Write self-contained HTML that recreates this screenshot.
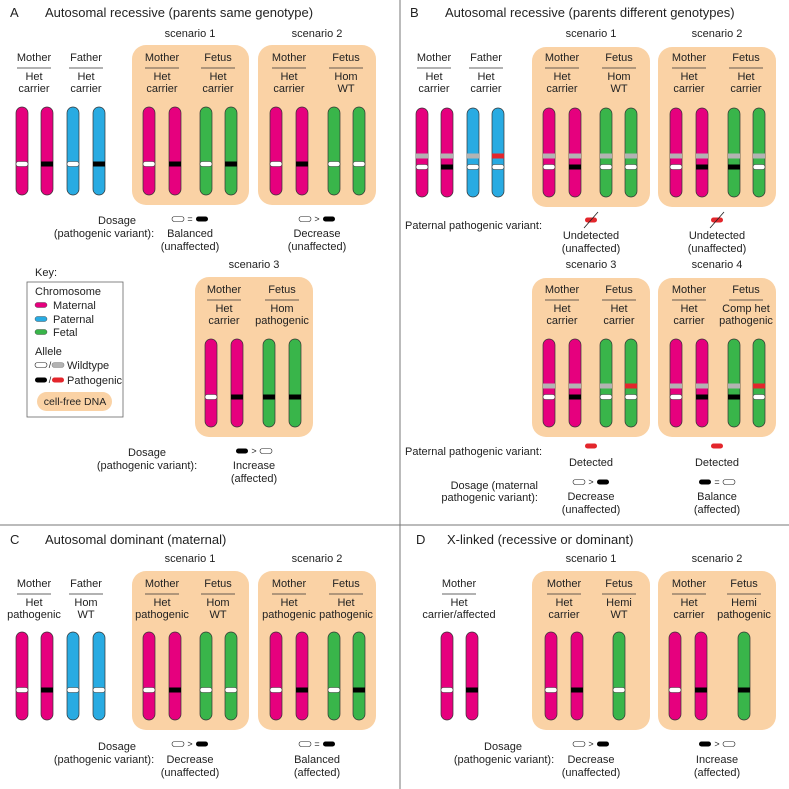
<!DOCTYPE html>
<html><head><meta charset="utf-8"><style>
html,body{margin:0;padding:0;background:#fff;}
svg{display:block;font-family:"Liberation Sans",sans-serif;}
text{fill:#222;}
</style></head><body>
<svg id="fig" width="789" height="789" viewBox="0 0 789 789" xmlns="http://www.w3.org/2000/svg"></svg>
<script>
const NS='http://www.w3.org/2000/svg';
const svg=document.getElementById('fig');
const COL={m:'#e6007e',p:'#29abe2',f:'#39b54a'};
const AL={w:'#ffffff',b:'#000000',g:'#b3b3b3',r:'#e3262c'};
function el(tag,attrs,parent){const e=document.createElementNS(NS,tag);for(const k in attrs)e.setAttribute(k,attrs[k]);(parent||svg).appendChild(e);return e;}
function txt(x,y,s,size,anchor,name){const t=el('text',{x:x,y:y,'font-size':size||11,'text-anchor':anchor||'middle'});t.textContent=s;


return t;}
function box(x1,y1,x2,y2){const r=el('rect',{x:x1,y:y1,width:x2-x1,height:y2-y1,rx:14,fill:'#fad2a5'});

}
function allele(cx,y,t,w){const r=el('rect',{x:cx-(w||6),y:y-2.5,width:2*(w||6),height:5,rx:2.5,fill:AL[t],stroke:t=='w'?'#222':(t=='g'?'#888':'none'),'stroke-width':0.6});

return r;}
function chrom(cx,top,bot,c,als){const g=el('g',{});


el('rect',{x:cx-6,y:top,width:12,height:bot-top,rx:6,fill:COL[c],stroke:'#333','stroke-width':0.7},g);
als.forEach(a=>{const r=el('rect',{x:cx-6,y:a[0]-2.5,width:12,height:5,rx:a[1]=='w'?2.5:0,fill:AL[a[1]],stroke:a[1]=='w'?'#333':'none','stroke-width':0.5},g);});}
function head(cx,y,name,l1,l2){txt(cx,y,name,11,'middle','person-label');
const ln=el('line',{x1:cx-17,y1:y+7,x2:cx+17,y2:y+7,stroke:'#333','stroke-width':0.8});


txt(cx,y+19,l1,11,'middle','genotype-line1');txt(cx,y+31,l2,11,'middle','genotype-line2');}
function sym(cx,y,a,op,b){allele(cx-12,y,a,6);txt(cx,y+3,op,9,'middle','dosage-operator');allele(cx+12,y,b,6);}

[['line',{x1:400,y1:0,x2:400,y2:789}],['line',{x1:0,y1:525,x2:789,y2:525}]].forEach(d=>{const l=el(d[0],Object.assign(d[1],{stroke:'#777','stroke-width':1}));

});

[[10,45,17,'A','Autosomal recessive (parents same genotype)'],[410,445,17,'B','Autosomal recessive (parents different genotypes)'],
 [10,45,544,'C','Autosomal dominant (maternal)'],[416,447,544,'D','X-linked (recessive or dominant)']].forEach(t=>{
 txt(t[0],t[2],t[3],13,'start','panel-letter');txt(t[1],t[2],t[4],13,'start','panel-title');});

// Panel A
box(132,45,249,205);box(258,45,376,205);box(195,277,313,437);
txt(190,37,'scenario 1',11,'middle','scenario-label');txt(317,37,'scenario 2',11,'middle','scenario-label');txt(254,268,'scenario 3',11,'middle','scenario-label');
head(34,61,'Mother','Het','carrier');head(86,61,'Father','Het','carrier');
head(162,61,'Mother','Het','carrier');head(218,61,'Fetus','Het','carrier');
head(289,61,'Mother','Het','carrier');head(346,61,'Fetus','Hom','WT');
head(224,293,'Mother','Het','carrier');head(282,293,'Fetus','Hom','pathogenic');
[[22,'m','w'],[47,'m','b'],[73,'p','w'],[99,'p','b'],[149,'m','w'],[175,'m','b'],[206,'f','w'],[231,'f','b'],[276,'m','w'],[302,'m','b'],[334,'f','w'],[359,'f','w']]
 .forEach(c=>chrom(c[0],107,195,c[1],[[164,c[2]]]));
[[211,'m','w'],[237,'m','b'],[269,'f','b'],[295,'f','b']].forEach(c=>chrom(c[0],339,427,c[1],[[397,c[2]]]));
txt(117,224,'Dosage');txt(104,237,'(pathogenic variant):');
sym(190,219,'w','=','b');txt(190,237,'Balanced');txt(190,250,'(unaffected)');
sym(317,219,'w','>','b');txt(317,237,'Decrease');txt(317,250,'(unaffected)');
txt(147,456,'Dosage');txt(147,469,'(pathogenic variant):');
sym(254,451,'b','>','w');txt(254,469,'Increase');txt(254,482,'(affected)');
// key
txt(35,276,'Key:',11,'start','key-title');
const kb=el('rect',{x:27,y:282,width:96,height:135,fill:'#fff',stroke:'#666','stroke-width':0.8});

txt(35,295,'Chromosome',11,'start','key-heading');
[['m','Maternal',305],['p','Paternal',319],['f','Fetal',332]].forEach(k=>{const r=el('rect',{x:35,y:k[2]-2.5,width:12,height:5,rx:2.5,fill:COL[k[0]],stroke:'#333','stroke-width':0.4});
txt(53,k[2]+4,k[1],11,'start','key-entry');});
txt(35,355,'Allele',11,'start','key-heading');
allele(41,365,'w',6);txt(50,368,'/',9,'middle');allele(58,365,'g',6);txt(67,369,'Wildtype',11,'start','key-entry');
allele(41,380,'b',6);txt(50,383,'/',9,'middle');allele(58,380,'r',6);txt(67,384,'Pathogenic',11,'start','key-entry');
const cf=el('rect',{x:37,y:392,width:75,height:19,rx:9.5,fill:'#fad2a5'});
txt(75,405,'cell-free DNA',10.5,'middle','key-entry');

// Panel B
box(532,47,650,207);box(658,47,776,207);box(532,278,650,437);box(658,278,776,437);
txt(591,37,'scenario 1',11,'middle','scenario-label');txt(717,37,'scenario 2',11,'middle','scenario-label');
txt(591,268,'scenario 3',11,'middle','scenario-label');txt(717,268,'scenario 4',11,'middle','scenario-label');
head(434,61,'Mother','Het','carrier');head(486,61,'Father','Het','carrier');
head(562,61,'Mother','Het','carrier');head(619,61,'Fetus','Hom','WT');
head(689,61,'Mother','Het','carrier');head(746,61,'Fetus','Het','carrier');
head(562,293,'Mother','Het','carrier');head(619,293,'Fetus','Het','carrier');
head(689,293,'Mother','Het','carrier');head(746,293,'Fetus','Comp het','pathogenic');
[[422,'m','g','w'],[447,'m','g','b'],[473,'p','g','w'],[498,'p','r','w'],
 [549,'m','g','w'],[575,'m','g','b'],[606,'f','g','w'],[631,'f','g','w'],
 [676,'m','g','w'],[702,'m','g','b'],[734,'f','g','b'],[759,'f','g','w']].forEach(c=>chrom(c[0],108,197,c[1],[[156,c[2]],[167,c[3]]]));
[[549,'m','g','w'],[575,'m','g','b'],[606,'f','g','w'],[631,'f','r','w'],
 [676,'m','g','w'],[702,'m','g','b'],[734,'f','g','b'],[759,'f','r','w']].forEach(c=>chrom(c[0],339,427,c[1],[[386,c[2]],[397,c[3]]]));
txt(542,229,'Paternal pathogenic variant:',11,'end');
[591,717].forEach(x=>{allele(x,220,'r',6);const l=el('line',{x1:x-7,y1:228,x2:x+7,y2:212,stroke:'#222','stroke-width':0.8});
txt(x,239,'Undetected');txt(x,252,'(unaffected)');});
txt(542,455,'Paternal pathogenic variant:',11,'end');
[591,717].forEach(x=>{allele(x,446,'r',6);txt(x,466,'Detected');});
txt(538,489,'Dosage (maternal',11,'end');txt(538,501,'pathogenic variant):',11,'end');
sym(591,482,'w','>','b');txt(591,500,'Decrease');txt(591,513,'(unaffected)');
sym(717,482,'b','=','w');txt(717,500,'Balance');txt(717,513,'(affected)');

// Panel C
box(132,571,249,730);box(258,571,376,730);
txt(190,562,'scenario 1',11,'middle','scenario-label');txt(317,562,'scenario 2',11,'middle','scenario-label');
head(34,587,'Mother','Het','pathogenic');head(86,587,'Father','Hom','WT');
head(162,587,'Mother','Het','pathogenic');head(218,587,'Fetus','Hom','WT');
head(289,587,'Mother','Het','pathogenic');head(346,587,'Fetus','Het','pathogenic');
[[22,'m','w'],[47,'m','b'],[73,'p','w'],[99,'p','w'],[149,'m','w'],[175,'m','b'],[206,'f','w'],[231,'f','w'],[276,'m','w'],[302,'m','b'],[334,'f','w'],[359,'f','b']]
 .forEach(c=>chrom(c[0],632,720,c[1],[[690,c[2]]]));
txt(117,750,'Dosage');txt(104,763,'(pathogenic variant):');
sym(190,744,'w','>','b');txt(190,763,'Decrease');txt(190,776,'(unaffected)');
sym(317,744,'w','=','b');txt(317,763,'Balanced');txt(317,776,'(affected)');

// Panel D
box(532,571,650,730);box(658,571,776,730);
txt(591,562,'scenario 1',11,'middle','scenario-label');txt(717,562,'scenario 2',11,'middle','scenario-label');
head(459,587,'Mother','Het','carrier/affected');
head(564,587,'Mother','Het','carrier');head(619,587,'Fetus','Hemi','WT');
head(689,587,'Mother','Het','carrier');head(744,587,'Fetus','Hemi','pathogenic');
[[447,'m','w'],[472,'m','b'],[551,'m','w'],[577,'m','b'],[619,'f','w'],[675,'m','w'],[701,'m','b'],[744,'f','b']]
 .forEach(c=>chrom(c[0],632,720,c[1],[[690,c[2]]]));
txt(503,750,'Dosage');txt(504,763,'(pathogenic variant):');
sym(591,744,'w','>','b');txt(591,763,'Decrease');txt(591,776,'(unaffected)');
sym(717,744,'b','>','w');txt(717,763,'Increase');txt(717,776,'(affected)');
</script>
</body></html>
